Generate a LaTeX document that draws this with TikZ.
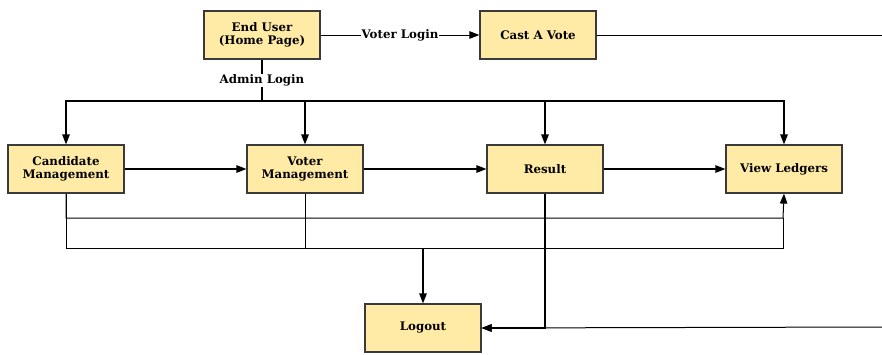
\documentclass[tikz,border=0pt]{standalone}
\usepackage{fontspec}
\setmainfont{DejaVu Serif}
\usetikzlibrary{arrows.meta}
\definecolor{boxfill}{HTML}{FFEBA6}
\definecolor{boxline}{HTML}{3A3A3A}
\tikzset{
  x=1pt,y=-1pt,
  box/.style={draw=boxline,line width=1.2pt,fill=boxfill,minimum width=116pt,minimum height=48pt,
    align=center,font=\bfseries\fontsize{11.8}{13}\selectfont,inner sep=2pt},
  tip/.style={-{Triangle[length=10pt,width=7.5pt]}},
  arr/.style={line width=1.2pt,tip},
  ln/.style={line width=1pt},
  lbl/.style={fill=white,inner sep=1pt,font=\bfseries\fontsize{11.8}{13}\selectfont}
}
\begin{document}
\begin{tikzpicture}
\useasboundingbox (0,0) rectangle (882,354);
\node[box] (eu) at (262,35) {End User\\(Home Page)};
\node[box] (cast) at (538,35) {Cast A Vote};
\node[box] (cand) at (66,169) {Candidate\\Management};
\node[box] (voter) at (305,169) {Voter\\Management};
\node[box] (res) at (545,169) {Result};
\node[box] (led) at (784,169) {View Ledgers};
\node[box] (out) at (423,328) {Logout};
\coordinate (bus) at (262,101);
\coordinate (outA) at (882,35);
\coordinate (inB) at (882,327);
\coordinate (j) at (423,248);

\draw[arr,line width=1pt] (eu) -- node[lbl]{Voter Login} (cast);
\draw[ln] (cast) -- (outA);
\draw[ln,line width=1.2pt] (eu.south) -- node[lbl]{Admin Login} (bus);
\draw[arr] (bus) -| (cand.north);
\draw[arr] (bus) -| (voter.north);
\draw[arr] (bus) -| (res.north);
\draw[arr] (bus) -| (led.north);

\draw[arr] (cand) -- (voter);
\draw[arr] (voter) -- (res);
\draw[arr] (res) -- (led);

\draw[ln,tip] (cand.south) |- (783,218) -- (led.south);
\draw[ln] (cand.south) |- (j);
\draw[ln] (voter.south) |- (783,248) -- (783,218);
\draw[arr] (j) -- (out.north);
\draw[arr] (res.south) |- (out.east);
\draw[arr,line width=1pt] (inB) -- (out.east);
\end{tikzpicture}
\end{document}
